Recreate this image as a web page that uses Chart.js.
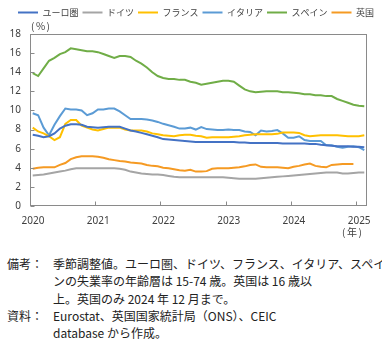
<!DOCTYPE html>
<html><head><meta charset="utf-8">
<script src="https://cdn.jsdelivr.net/npm/chart.js@4"></script>
<style>
html,body{margin:0;padding:0;background:#fff;width:382px;height:353px;overflow:hidden;}
#wrap{position:relative;width:382px;height:353px;}
canvas{position:absolute;left:0;top:0;}
.lbl{position:absolute;font-family:'Noto Sans CJK JP';font-size:10px;color:#404040;white-space:nowrap;letter-spacing:1.5px;line-height:12px;}
#notes{position:absolute;left:7px;top:255px;font-family:'Noto Sans CJK JP';font-size:12px;line-height:17.3px;color:#222;white-space:nowrap;}
.row{display:flex}
.head{width:46px;flex:none}
</style></head><body>
<div id="wrap">
<canvas id="c" width="382" height="245"></canvas>
<div class="lbl" style="left:31px;top:20px;">(%)</div>
<div class="lbl" style="left:342px;top:226px;">(年)</div>
<div id="notes">
<div class="row"><span class="head">備考：</span><span>季節調整値。ユーロ圏、ドイツ、フランス、イタリア、スペイ<br>ンの失業率の年齢層は 15-74 歳。英国は 16 歳以<br>上。英国のみ 2024 年 12 月まで。</span></div>
<div class="row"><span class="head">資料：</span><span>Eurostat、英国国家統計局（ONS）、CEIC<br>database から作成。</span></div>
</div>
</div>
<script>
// Monthly data, Jan 2020 onward
const yearTicks = ['2020','2021','2022','2023','2024','2025'];
const seriesNames = ['ユーロ圏','ドイツ','フランス','イタリア','スペイン','英国'];
const euro = [7.45,7.35,7.2,7.3,7.6,8.1,8.4,8.55,8.55,8.5,8.3,8.25,
  8.2,8.25,8.3,8.3,8.3,8.1,7.9,7.8,7.65,7.5,7.35,7.2,
  7.0,6.95,6.9,6.85,6.8,6.75,6.7,6.7,6.7,6.7,6.7,6.7,
  6.7,6.7,6.65,6.65,6.6,6.6,6.6,6.6,6.6,6.6,6.55,6.55,
  6.55,6.55,6.55,6.5,6.5,6.4,6.35,6.3,6.25,6.25,6.25,6.2,
  6.2,6.15];
const germany = [3.2,3.25,3.3,3.4,3.5,3.6,3.7,3.85,3.95,3.95,3.95,3.95,
  3.95,3.95,3.95,3.95,3.9,3.8,3.6,3.5,3.4,3.35,3.3,3.3,
  3.25,3.15,3.05,3.0,3.0,3.0,3.0,3.0,3.0,3.0,3.0,3.0,
  2.95,2.9,2.85,2.85,2.85,2.85,2.9,2.95,3.0,3.05,3.1,3.15,
  3.2,3.25,3.3,3.35,3.4,3.45,3.5,3.5,3.5,3.4,3.4,3.45,
  3.5,3.5];
const france = [8.2,7.8,7.6,7.3,6.9,7.2,8.6,9.0,9.0,8.4,8.2,8.0,
  7.9,8.05,8.2,8.2,8.2,8.0,7.9,7.9,7.9,7.8,7.6,7.5,
  7.4,7.35,7.3,7.4,7.45,7.45,7.35,7.3,7.15,7.2,7.2,7.2,
  7.2,7.25,7.3,7.4,7.45,7.5,7.5,7.5,7.5,7.55,7.7,7.7,
  7.7,7.65,7.4,7.3,7.35,7.4,7.4,7.4,7.4,7.35,7.3,7.3,
  7.3,7.4];
const italy = [9.7,9.5,8.2,7.4,8.5,9.4,10.2,10.1,10.1,10.0,9.5,9.7,
  10.1,10.1,10.2,10.2,9.9,9.5,9.1,9.1,9.1,9.05,8.95,8.8,
  8.6,8.45,8.3,8.1,8.1,8.2,8.0,8.25,8.05,8.0,7.95,7.95,
  8.0,7.95,7.95,7.8,7.75,7.4,7.9,7.8,7.85,7.95,7.6,7.15,
  7.15,7.3,6.9,6.8,6.8,6.8,6.35,6.35,6.2,6.1,6.2,6.25,
  6.15,5.85];
const spain = [13.9,13.6,14.4,15.2,15.5,15.9,16.1,16.5,16.4,16.3,16.2,16.2,
  16.1,15.9,15.7,15.5,15.7,15.7,15.6,15.2,14.9,14.5,14.0,13.6,
  13.4,13.3,13.3,13.2,13.2,13.0,12.9,12.7,12.8,12.9,13.0,13.1,
  13.1,13.0,12.6,12.2,12.0,11.9,11.95,12.0,12.0,12.0,11.9,11.9,
  11.85,11.8,11.7,11.7,11.6,11.6,11.5,11.5,11.2,11.0,10.8,10.6,
  10.5,10.45];
const uk = [3.9,4.0,4.05,4.05,4.05,4.3,4.5,4.9,5.1,5.2,5.2,5.2,
  5.15,5.05,4.9,4.8,4.7,4.65,4.55,4.5,4.45,4.3,4.2,4.15,
  4.0,3.95,3.85,3.75,3.7,3.8,3.6,3.6,3.65,3.9,3.95,3.95,
  3.95,4.0,4.05,4.15,4.3,4.35,4.1,4.05,4.05,4.05,4.0,3.95,
  4.1,4.2,4.35,4.45,4.2,4.1,4.05,4.3,4.35,4.4,4.4,4.4];
const colors = ['#4472C4','#A5A5A5','#FFC000','#5B9BD5','#70AD47','#F59A23'];
const allSeries = [euro, germany, france, italy, spain, uk];

const toPts = arr => arr.map((v,i)=>({x:i+0.5,y:v}));
const tickFont = {family:"'Noto Sans', sans-serif", size:10};

const framePlugin = {
  id:'frame',
  afterDatasetsDraw(chart){
    const {ctx, chartArea:a, scales:{x,y}} = chart;
    ctx.save();
    ctx.strokeStyle = '#8a8a8a';
    ctx.lineWidth = 1;
    const L = Math.round(a.left)+0.5, R = Math.round(a.right)-0.5, T = Math.round(a.top)+0.5, B = Math.round(a.bottom)-0.5;
    ctx.strokeRect(L, T, R-L, B-T);
    ctx.beginPath();
    for (let v=0; v<=18; v+=2){ const py = Math.round(y.getPixelForValue(v))+0.5; ctx.moveTo(L,py); ctx.lineTo(L+4,py); }
    yearTicks.forEach((t,i)=>{ const px = Math.round(x.getPixelForValue(i*12))+0.5; ctx.moveTo(px,B); ctx.lineTo(px,B-4); });
    ctx.stroke();
    ctx.restore();
  }
};

new Chart(document.getElementById('c'), {
  type:'line',
  data:{datasets: allSeries.map((arr,k)=>({
    label: seriesNames[k], data: toPts(arr), borderColor: colors[k], backgroundColor: colors[k],
    borderWidth: 2, pointRadius: 0, tension: 0, fill: false
  }))},
  options:{
    responsive:false, animation:false, devicePixelRatio:1,
    layout:{padding:{left:0,right:4,top:4,bottom:19}},
    plugins:{
      legend:{position:'top',align:'end',
        labels:{usePointStyle:true,pointStyle:'line',pointStyleWidth:20,boxHeight:9,
          font:{family:"'Noto Sans CJK JP'",size:9},color:'#404040',padding:4}},
      tooltip:{enabled:false}
    },
    scales:{
      x:{type:'linear',min:0,max:62,
        afterBuildTicks:s=>{ s.ticks = yearTicks.map((t,i)=>({value:i*12})); },
        ticks:{callback:v=>yearTicks[Math.round(v/12)],font:tickFont,color:'#404040',padding:9,maxRotation:0,autoSkip:false,labelOffset:3},
        grid:{display:false,drawTicks:false}, border:{display:false},
        afterFit:s=>{ s.height = 20; }
      },
      x2:{axis:'x',type:'linear',position:'top',display:true,
        ticks:{display:false}, grid:{display:false,drawTicks:false}, border:{display:false},
        afterFit:s=>{ s.height = 7; }
      },
      y:{min:0,max:18,
        ticks:{stepSize:2,font:tickFont,color:'#404040',padding:9},
        grid:{display:false,drawTicks:false}, border:{display:false},
        afterFit:s=>{ s.width = 30; }
      },
      y2:{axis:'y',position:'right',display:true,
        ticks:{display:false}, grid:{display:false,drawTicks:false}, border:{display:false},
        afterFit:s=>{ s.width = 11; }
      }
    }
  },
  plugins:[framePlugin]
});
</script>
</body></html>
